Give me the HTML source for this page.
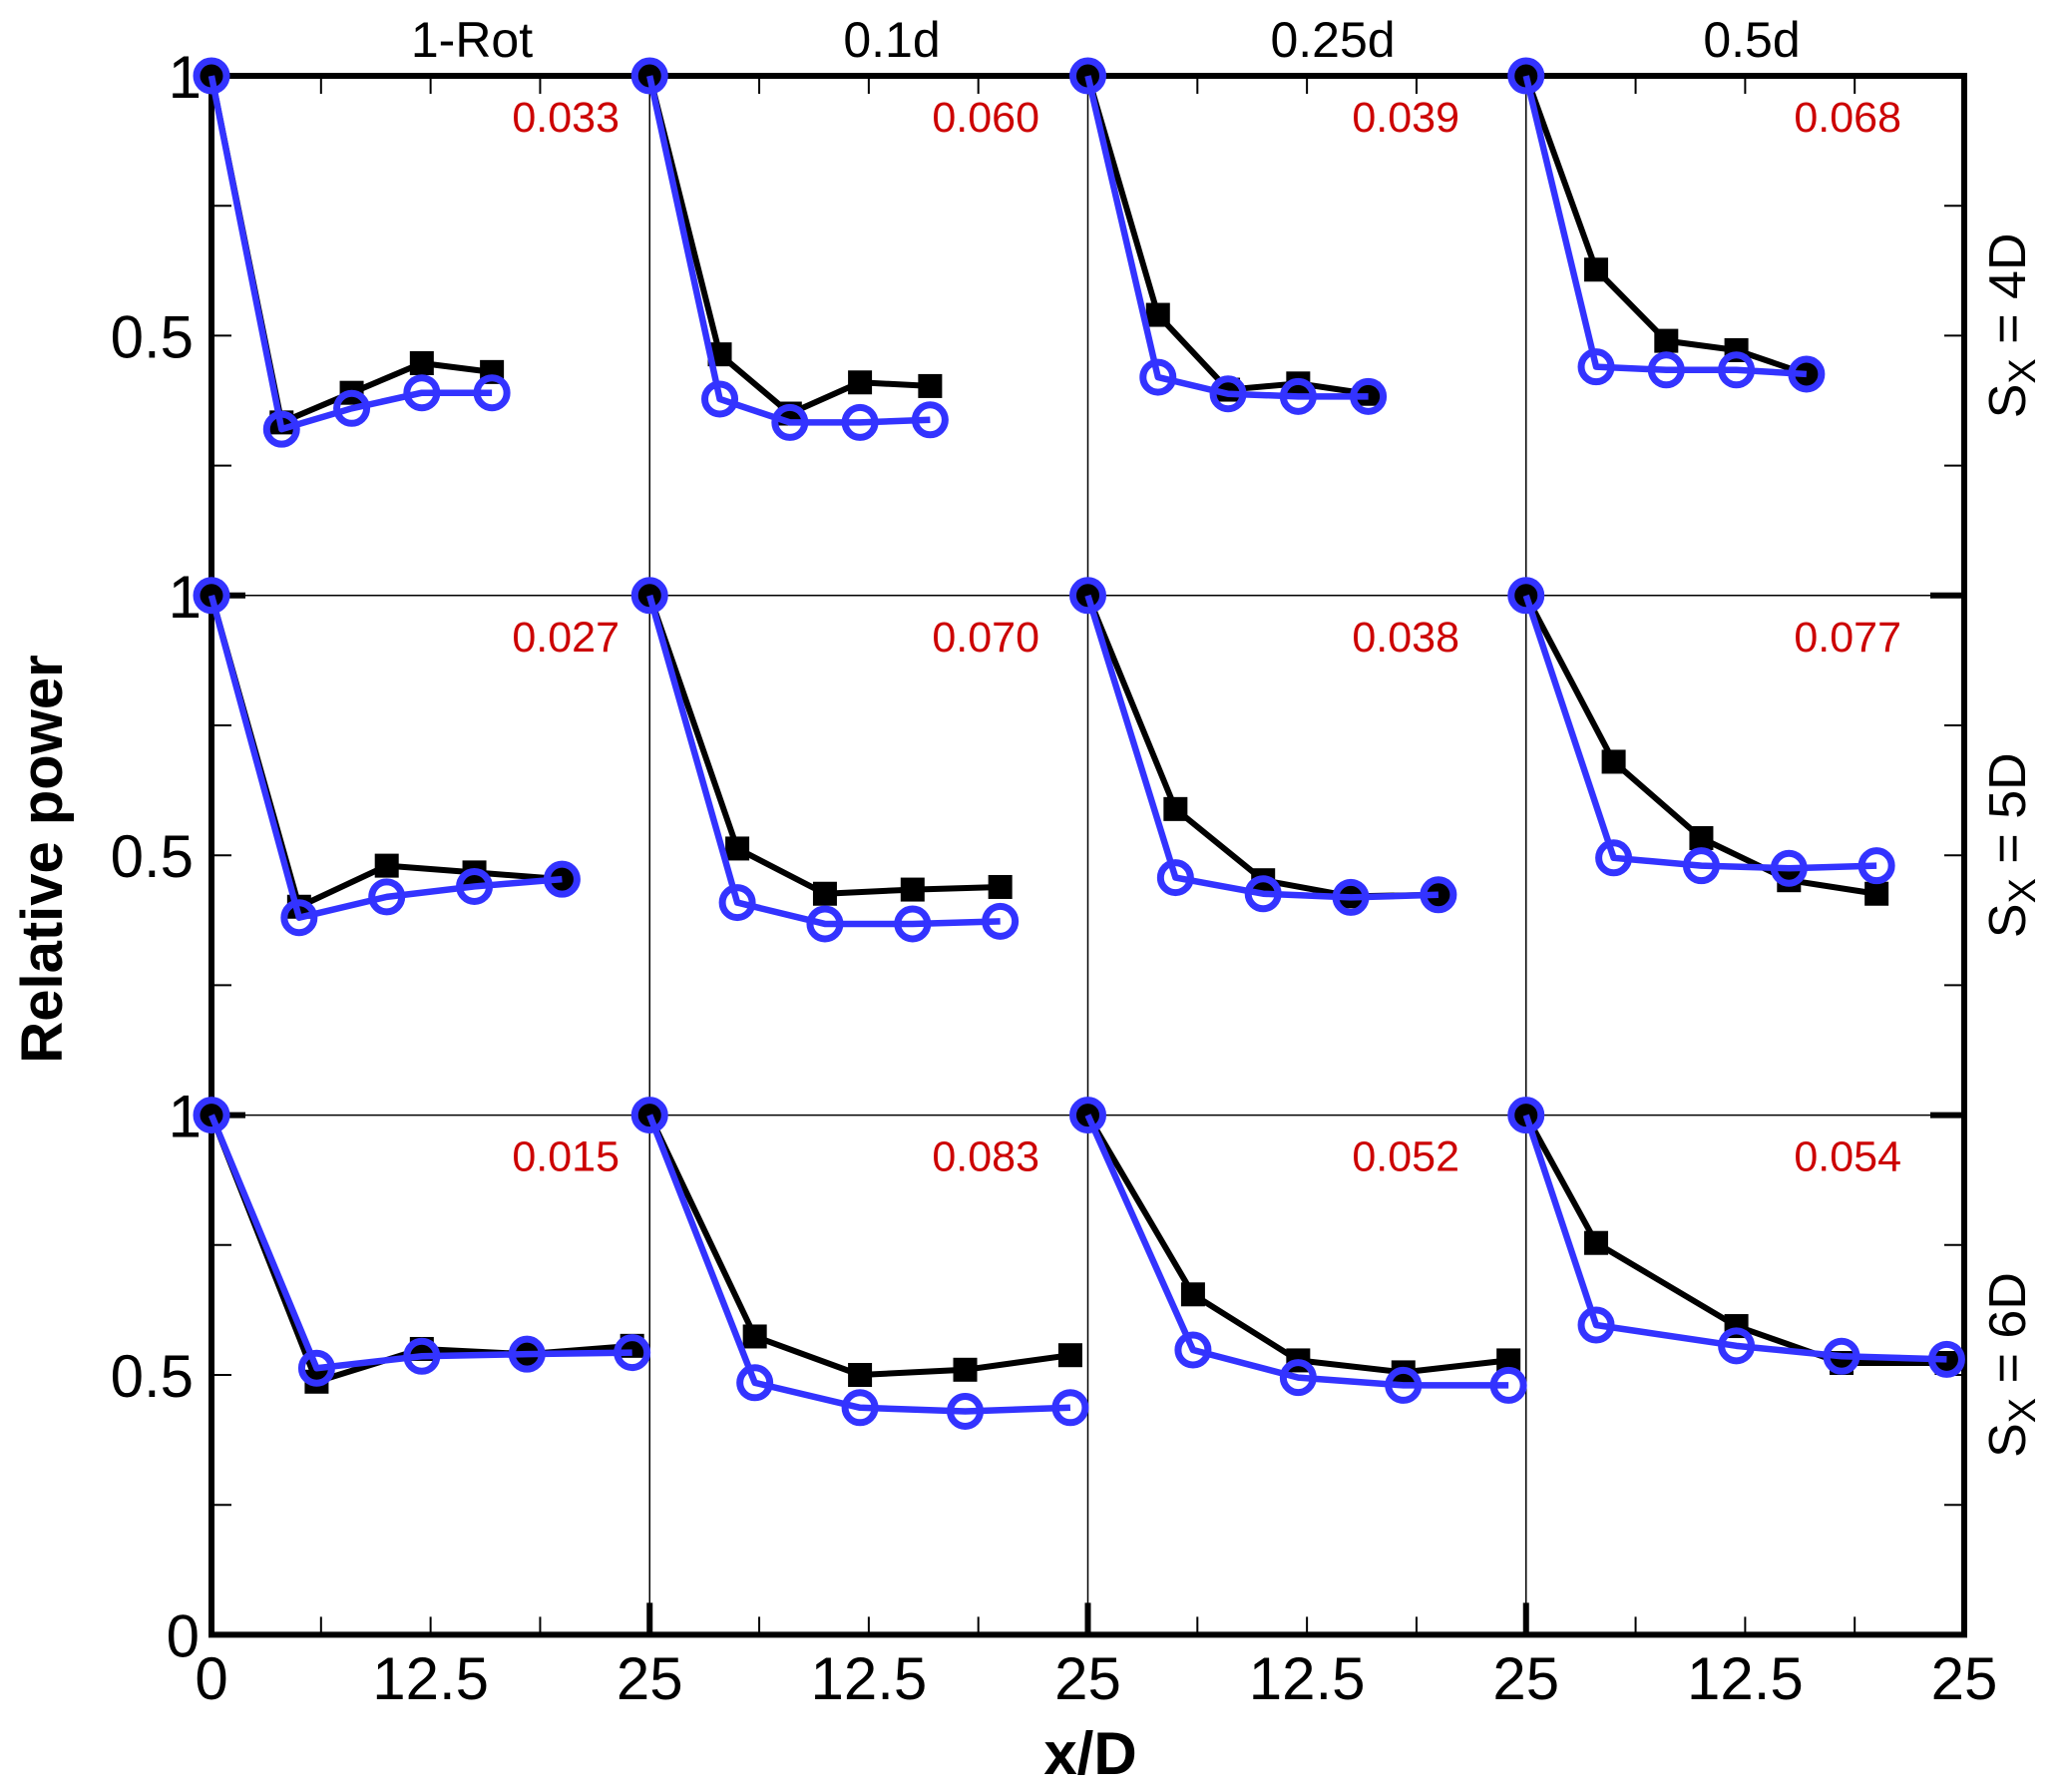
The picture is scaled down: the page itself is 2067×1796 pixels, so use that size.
<!DOCTYPE html>
<html><head><meta charset="utf-8">
<style>
html,body{margin:0;padding:0;background:#fff;}
svg{display:block;font-family:"Liberation Sans",Arial,sans-serif;}
</style></head>
<body>
<svg id="chart" width="2067" height="1796" viewBox="0 0 2067 1796" xmlns="http://www.w3.org/2000/svg">
<g id="grid"></g>
<g id="marks"></g>
<g id="labels"></g>
</svg>
<script>
const colTitles = ["1-Rot","0.1d","0.25d","0.5d"];
const rowTitles = ["4D","5D","6D"];
const errValues = [["0.033","0.060","0.039","0.068"],["0.027","0.070","0.038","0.077"],["0.015","0.083","0.052","0.054"]];
const xTickLabels = ["0","12.5","25"];
const yTickLabels = ["0","0.5","1"];
const xPos = [
 [[0,4,8,12,16],[0,4,8,12,16],[0,4,8,12,16],[0,4,8,12,16]],
 [[0,5,10,15,20],[0,5,10,15,20],[0,5,10,15,20],[0,5,10,15,20]],
 [[0,6,12,18,24],[0,6,12,18,24],[0,6,12,18,24],[0,4,12,18,24]]
];
const blackVals = [
 [[1,0.333,0.39,0.447,0.43],[1,0.464,0.35,0.41,0.403],[1,0.54,0.396,0.408,0.388],[1,0.627,0.49,0.472,0.426]],
 [[1,0.401,0.48,0.467,0.454],[1,0.513,0.426,0.434,0.439],[1,0.589,0.452,0.421,0.424],[1,0.68,0.533,0.452,0.426]],
 [[1,0.487,0.55,0.54,0.556],[1,0.574,0.5,0.51,0.538],[1,0.655,0.528,0.505,0.528],[1,0.754,0.594,0.523,0.523]]
];
const blueVals = [
 [[1,0.32,0.36,0.39,0.39],[1,0.378,0.333,0.333,0.338],[1,0.42,0.388,0.383,0.383],[1,0.44,0.434,0.434,0.426]],
 [[1,0.38,0.42,0.44,0.454],[1,0.409,0.368,0.368,0.373],[1,0.457,0.426,0.419,0.424],[1,0.495,0.48,0.475,0.48]],
 [[1,0.513,0.536,0.54,0.543],[1,0.485,0.437,0.43,0.437],[1,0.548,0.495,0.48,0.48],[1,0.596,0.556,0.536,0.53]]
];

const NS="http://www.w3.org/2000/svg";
const L=212, R=1969, T=76, UNIT=520.8;
const PW=(R-L)/4;
const bottom=T+3*UNIT;
function px(col,x){return L+col*PW+x/25*PW;}
function py(row,v){return T+row*UNIT+(1-v)*UNIT;}
function mk(tag,attrs,parent){const e=document.createElementNS(NS,tag);for(const k in attrs)e.setAttribute(k,attrs[k]);parent.appendChild(e);return e;}
const grid=document.getElementById('grid'),marks=document.getElementById('marks'),labels=document.getElementById('labels');

for(let c=1;c<4;c++){const l=mk('line',{x1:px(c,0),x2:px(c,0),y1:T,y2:bottom,stroke:'#000','stroke-width':1.5},grid);

}
for(let r=1;r<3;r++){const l=mk('line',{x1:L,x2:R,y1:py(r,1),y2:py(r,1),stroke:'#000','stroke-width':1.5},grid);

}
for(let c=0;c<4;c++){for(let k=1;k<4;k++){const x=px(c,k*6.25);
 const t1=mk('line',{x1:x,x2:x,y1:bottom,y2:bottom-18,stroke:'#000','stroke-width':2},grid);
 
 
 const t2=mk('line',{x1:x,x2:x,y1:T,y2:T+18,stroke:'#000','stroke-width':2},grid);
 
 }
 if(c>0){const t3=mk('line',{x1:px(c,0),x2:px(c,0),y1:bottom,y2:bottom-32,stroke:'#000','stroke-width':6},grid);
 
 }}
for(let r=0;r<3;r++){for(const v of [0.25,0.5,0.75]){const y=py(r,v);
 const a=mk('line',{x1:L,x2:L+20,y1:y,y2:y,stroke:'#000','stroke-width':2},grid);
 
 
 const b=mk('line',{x1:R,x2:R-20,y1:y,y2:y,stroke:'#000','stroke-width':2},grid);
 
 }
 if(r>0){const y=py(r,1);
 const a=mk('line',{x1:L,x2:L+34,y1:y,y2:y,stroke:'#000','stroke-width':6},grid);
 
 
 const b=mk('line',{x1:R,x2:R-34,y1:y,y2:y,stroke:'#000','stroke-width':6},grid);
 
 }}
const fr=mk('rect',{x:L,y:T,width:R-L,height:bottom-T,fill:'none',stroke:'#000','stroke-width':6},grid);



for(let r=0;r<3;r++)for(let c=0;c<4;c++){
 const xs=xPos[r][c];
 const bp=xs.map((x,i)=>px(c,x)+','+py(r,blackVals[r][c][i])).join(' ');
 const bl=mk('polyline',{points:bp,fill:'none',stroke:'#000','stroke-width':6,'stroke-linejoin':'round'},marks);
 
 
 xs.forEach((x,i)=>{const s=mk('rect',{x:px(c,x)-12,y:py(r,blackVals[r][c][i])-12,width:24,height:24,fill:'#000'},marks);
  
  });
 const up=xs.map((x,i)=>px(c,x)+','+py(r,blueVals[r][c][i])).join(' ');
 const ul=mk('polyline',{points:up,fill:'none',stroke:'#3333ff','stroke-width':6.5,'stroke-linejoin':'round'},marks);
 
 
 xs.forEach((x,i)=>{const o=mk('circle',{cx:px(c,x),cy:py(r,blueVals[r][c][i]),r:15,fill:'none',stroke:'#3333ff','stroke-width':7},marks);
  
  });
}

function txt(s,attrs,name){const t=mk('text',attrs,labels);t.textContent=s;
 
 return t;}
const titleX=[473,894,1336,1756];
colTitles.forEach((s,c)=>txt(s,{x:titleX[c],y:57,'font-size':50,'text-anchor':'middle'},'column-title'));
const errRight=[621,1042,1463,1906];
for(let r=0;r<3;r++)for(let c=0;c<4;c++)
 txt(errValues[r][c],{x:errRight[c],y:py(r,1)+56,'font-size':43,fill:'#cc0000','text-anchor':'end'},'error-value');
for(let r=0;r<3;r++){
 txt(yTickLabels[2],{x:L-10,y:py(r,1)+22,'font-size':60,'text-anchor':'end'},'y-tick-label');
 txt(yTickLabels[1],{x:L-18,y:py(r,0.5)+22,'font-size':60,'text-anchor':'end'},'y-tick-label');}
txt(yTickLabels[0],{x:L-12,y:bottom+22,'font-size':60,'text-anchor':'end'},'y-tick-label');
txt(xTickLabels[0],{x:L,y:1703,'font-size':60,'text-anchor':'middle'},'x-tick-label');
for(let c=0;c<4;c++){
 txt(xTickLabels[1],{x:px(c,12.5),y:1703,'font-size':60,'text-anchor':'middle'},'x-tick-label');
 txt(xTickLabels[2],{x:px(c,25),y:1703,'font-size':60,'text-anchor':'middle'},'x-tick-label');}
txt('x/D',{x:1093,y:1778,'font-size':60,'font-weight':'bold','text-anchor':'middle'},'x-axis-title');
txt('Relative power',{x:0,y:0,'font-size':58,'font-weight':'bold','text-anchor':'middle',transform:'translate(62,861) rotate(-90)'},'y-axis-title');
rowTitles.forEach((s,r)=>{
 const cy=py(r,0.5)-10;
 const t=mk('text',{'font-size':52,'text-anchor':'middle',transform:'translate(2030,'+cy+') rotate(-90)'},labels);
 
 
 const a=mk('tspan',{},t);a.textContent='S';
 const b=mk('tspan',{'font-size':38,dy:10},t);b.textContent='X';
 const d=mk('tspan',{dy:-10},t);d.textContent=' = '+s;
});
</script>
</body></html>
